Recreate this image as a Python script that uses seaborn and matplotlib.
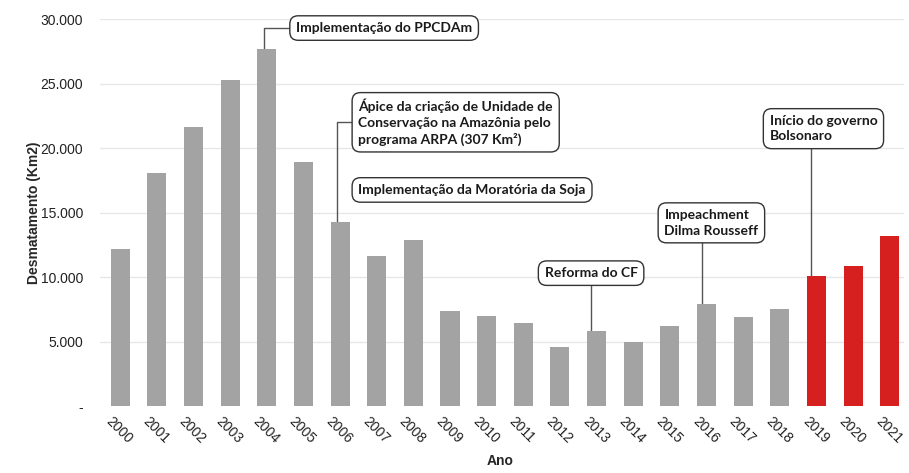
import matplotlib
matplotlib.use("Agg")
import matplotlib.pyplot as plt
import matplotlib.transforms as mtransforms
import seaborn as sns
import pandas as pd

years = [str(y) for y in range(2000, 2022)]
values = [12200, 18100, 21600, 25300, 27700, 18900, 14300, 11600, 12900, 7400,
          7000, 6400, 4600, 5800, 5000, 6200, 7900, 6900, 7500, 10100, 10850, 13200]
groups = ["antes"] * 19 + ["Bolsonaro"] * 3
yticks = [0, 5000, 10000, 15000, 20000, 25000, 30000]
ytick_labels = ["-", "5.000", "10.000", "15.000", "20.000", "25.000", "30.000"]

gray = "#a3a3a3"
red = "#d6201f"

df = pd.DataFrame({"Ano": years, "Desmatamento": values, "grupo": groups})

sns.set_style("white")
plt.rcParams["font.family"] = ["Liberation Sans", "DejaVu Sans"]

fig = plt.figure(figsize=(9.09, 4.73), dpi=100)
ax = fig.add_axes([0.11, 0.1416, 0.885, 0.8182])

sns.barplot(data=df, x="Ano", y="Desmatamento", hue="grupo",
            palette={"antes": gray, "Bolsonaro": red}, dodge=False, saturation=1,
            width=0.52, legend=False, ax=ax, zorder=2, linewidth=0)

ax.set_ylim(0, 30000)
ax.set_xlim(-0.55, 21.4)
ax.set_yticks(yticks)
ax.set_yticklabels(ytick_labels)
for y in yticks[1:]:
    ax.axhline(y, color="#e6e6e6", lw=0.9, zorder=0)
sns.despine(ax=ax, left=True, bottom=True, top=True, right=True)
ax.tick_params(axis="y", length=0, pad=12, labelsize=10, labelcolor="#222222")
ax.tick_params(axis="x", length=0, pad=6, labelsize=10, labelcolor="#222222")
shift = mtransforms.ScaledTranslation(-5 / 72, 0, fig.dpi_scale_trans)
for lbl in ax.get_xticklabels():
    lbl.set_rotation(-45)
    lbl.set_ha("left")
    lbl.set_va("top")
    lbl.set_rotation_mode("anchor")
    lbl.set_transform(lbl.get_transform() + shift)

ax.set_ylabel("Desmatamento (Km2)", fontsize=10, fontweight="bold", labelpad=0)
ax.set_xlabel("Ano", fontsize=10, fontweight="bold", labelpad=0)
ax.xaxis.set_label_coords(0.497, -0.125)

box = dict(boxstyle="round,pad=0.45,rounding_size=0.6", fc="white", ec="#333333", lw=1.0)
afont = dict(fontsize=10, fontweight="bold", family=["Lato", "DejaVu Sans"], color="#1a1a1a", zorder=5)
lc = "#555555"

# PPCDAm (2004)
i = years.index("2004")
ax.plot([i - 0.08, i - 0.08, 4.7], [values[i], 29300, 29300], color=lc, lw=1, zorder=1)
ax.text(4.8, 29300, "Implementação do PPCDAm", ha="left", va="center", bbox=box, **afont)

# ARPA (2006)
i = years.index("2006")
ax.plot([i - 0.08, i - 0.08, 6.6], [values[i], 22000, 22000], color=lc, lw=1, zorder=1)
ax.text(6.5, 22000, "Ápice da criação de Unidade de\nConservação na Amazônia pelo\nprograma ARPA (307 Km²)",
        ha="left", va="center", linespacing=1.35, bbox=box, **afont)

# Moratória da Soja
ax.text(6.5, 16750, "Implementação da Moratória da Soja", ha="left", va="center", bbox=box, **afont)

# Reforma do CF (2013)
i = years.index("2013")
ax.vlines(i - 0.15, values[i], 10300, color=lc, lw=1, zorder=1)
ax.text(i - 0.15, 10300, "Reforma do CF", ha="center", va="center", bbox=box, **afont)

# Impeachment (2016)
i = years.index("2016")
ax.vlines(i - 0.12, values[i], 14200, color=lc, lw=1, zorder=1)
ax.text(14.85, 14200, "Impeachment\nDilma Rousseff", ha="left", va="center",
        linespacing=1.35, bbox=box, **afont)

# Bolsonaro (2019)
i = years.index("2019")
ax.vlines(i - 0.15, values[i], 21500, color=lc, lw=1, zorder=1)
ax.text(17.72, 21500, "Início do governo\nBolsonaro", ha="left", va="center",
        linespacing=1.35, bbox=box, **afont)

fig.savefig("out.png", dpi=100)
